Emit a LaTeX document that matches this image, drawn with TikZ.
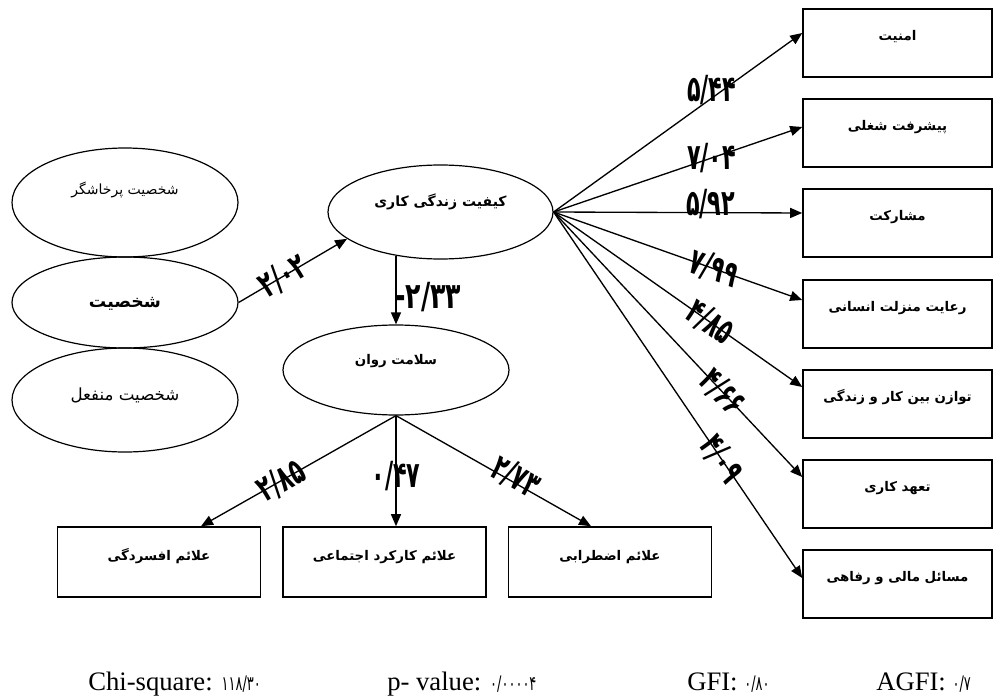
\documentclass[tikz,border=0pt]{standalone}
\usepackage{fontspec}
\usepackage{graphicx}
\setmainfont{Liberation Serif}
\newfontfamily\fa[Script=Arabic]{DejaVu Sans}
\TeXXeTstate=1
\usetikzlibrary{shapes.geometric,arrows.meta,calc}
\newcommand\fatext[1]{{\fa\beginR #1\endR}}
\newcommand\lift[2]{\raisebox{#1}[0pt][0pt]{#2}}
\newcommand\cnum[1]{\scalebox{0.62}[1]{#1}}
\tikzset{
  ell/.style={ellipse, draw, line width=0.9pt, inner sep=0pt},
  rbox/.style={rectangle, draw, line width=1.2pt, inner sep=0pt, minimum width=141.75pt, minimum height=51pt, font=\fa\bfseries\fontsize{10}{12}\selectfont},
  bbox/.style={rectangle, draw, line width=1.2pt, inner sep=0pt, minimum width=152pt, minimum height=52.5pt, font=\fa\bfseries\fontsize{10}{12}\selectfont},
  arr/.style={-{Triangle[length=9pt,width=7.5pt]}, line width=1pt},
  coef/.style={inner sep=0pt, font=\fa\bfseries\fontsize{27}{29}\selectfont},
  stat/.style={inner sep=0pt, anchor=base west, font=\fontsize{20}{22}\selectfont},
}
\newcommand\sdig[1]{\scalebox{0.65}[1]{\fa\fontsize{15}{17}\selectfont #1}}
\begin{document}
\begin{tikzpicture}[x=0.75pt,y=-0.75pt]
\useasboundingbox (0,0) rectangle (994,695);
% left ellipses
\node[ell, minimum width=169.5pt, minimum height=81.75pt, font=\fa\fontsize{10.5}{12}\selectfont] (p1) at (125,202.5) {\lift{6pt}{\fatext{شخصیت پرخاشگر}}};
\node[ell, minimum width=169.5pt, minimum height=68.25pt, font=\fa\bfseries\fontsize{13}{15}\selectfont] (p2) at (125,302.5) {\lift{-3.5pt}{\fatext{شخصیت}}};
\node[ell, minimum width=169.5pt, minimum height=78pt, font=\fa\fontsize{12.5}{14}\selectfont] (p3) at (125,400) {\lift{0pt}{\fatext{شخصیت منفعل}}};
% central ellipses
\node[ell, minimum width=168.75pt, minimum height=70.5pt, font=\fa\bfseries\fontsize{10.5}{12}\selectfont] (D) at (440.5,212) {\lift{4.5pt}{\fatext{کیفیت زندگی کاری}}};
\node[ell, minimum width=169.5pt, minimum height=67.5pt, font=\fa\bfseries\fontsize{10}{12}\selectfont] (E) at (396,370) {\lift{4.5pt}{\fatext{سلامت روان}}};
% right boxes
\node[rbox] (r1) at (897.5,43) {\lift{2pt}{\fatext{امنیت}}};
\node[rbox] (r2) at (897.5,133) {\lift{2pt}{\fatext{پیشرفت شغلی}}};
\node[rbox] (r3) at (897.5,223) {\lift{2pt}{\fatext{مشارکت}}};
\node[rbox] (r4) at (897.5,314) {\lift{2pt}{\fatext{رعایت منزلت انسانی}}};
\node[rbox] (r5) at (897.5,404) {\lift{2pt}{\fatext{توازن بین کار و زندگی}}};
\node[rbox] (r6) at (897.5,494) {\lift{2pt}{\fatext{تعهد کاری}}};
\node[rbox] (r7) at (897.5,584) {\lift{2pt}{\fatext{مسائل مالی و رفاهی}}};
% bottom boxes
\node[bbox] (b1) at (159,562) {\lift{1.5pt}{\fatext{علائم افسردگی}}};
\node[bbox] (b2) at (384.5,562) {\lift{1.5pt}{\fatext{علائم کارکرد اجتماعی}}};
\node[bbox] (b3) at (610,562) {\lift{1.5pt}{\fatext{علائم اضطرابی}}};
% connectors
\draw[arr] (p2.east) -- node[coef, sloped, pos=0.41] {\cnum{۲/۰۲}} (D.196);
\draw[arr] ($(E.north |- D.south)+(0,-3.5)$) -- node[coef, anchor=west, pos=0.6, xshift=-1pt] {\scalebox{0.7}[1]{\mbox{-}\mbox{۲/۳۳}}} (E.north);
\draw[arr] (D.east) -- node[coef, pos=0.636, yshift=6pt] {\cnum{۵/۴۴}} ([yshift=7.5pt]r1.west);
\draw[arr] (D.east) -- node[coef, pos=0.636] {\cnum{۷/۰۴}} ([yshift=4.5pt]r2.west);
\draw[arr] (D.east) -- node[coef, pos=0.632, yshift=6.5pt] {\cnum{۵/۹۲}} ([yshift=7.5pt]r3.west);
\draw[arr] (D.east) -- node[coef, sloped, pos=0.644] {\cnum{۷/۹۹}} ([yshift=10.5pt]r4.west);
\draw[arr] (D.east) -- node[coef, sloped, pos=0.63] {\cnum{۴/۸۵}} ([yshift=12.75pt]r5.west);
\draw[arr] (D.east) -- node[coef, sloped, pos=0.68] {\cnum{۴/۶۶}} ([yshift=12.75pt]r6.west);
\draw[arr] (D.east) -- node[coef, sloped, pos=0.675] {\cnum{۴/۰۹}} ([yshift=4.5pt]r7.west);
\draw[arr] (E.south) -- node[coef, sloped, pos=0.59] {\cnum{۲/۸۵}} ([xshift=31.5pt]b1.north);
\draw[arr] (E.south) -- node[coef, pos=0.545] {\cnum{۰/۴۷}} (E.south |- b2.north);
\draw[arr] (E.south) -- node[coef, sloped, pos=0.6, yshift=4pt] {\cnum{۲/۷۳}} ([xshift=-14.25pt]b3.north);
% statistics
\node[stat] (s1) at (88,690) {Chi-square: \sdig{۱۱۸/۳۰}};
\node[stat] (s2) at (387,690) {p- value: \sdig{۰/۰۰۰۰۴}};
\node[stat] (s3) at (687,690) {GFI: \sdig{۰/۸۰}};
\node[stat] (s4) at (876,690) {AGFI: \sdig{۰/۷}};
\end{tikzpicture}
\end{document}
